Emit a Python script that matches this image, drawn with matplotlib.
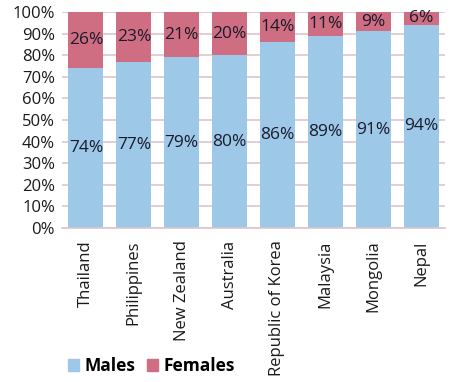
import matplotlib
matplotlib.use("Agg")
from matplotlib import pyplot as plt
from matplotlib.patches import Patch
import numpy as np

countries = ["Thailand", "Philippines", "New Zealand", "Australia",
             "Republic of Korea", "Malaysia", "Mongolia", "Nepal"]
males = [74, 77, 79, 80, 86, 89, 91, 94]
females = [26, 23, 21, 20, 14, 11, 9, 6]

blue = "#9dc8e8"
red = "#cf6e82"

plt.rcParams['font.family'] = ['Open Sans', 'DejaVu Sans']

fig = plt.figure(figsize=(4.54, 3.82), dpi=100)
ax = fig.add_axes([62 / 454, 1 - 228 / 382, (445 - 62) / 454, (228 - 12) / 382])

x = np.arange(len(countries))
ax.bar(x, males, width=0.73, color=blue, zorder=2)
ax.bar(x, females, width=0.73, bottom=males, color=red, zorder=2)

for i in range(len(countries)):
    ax.text(x[i], males[i] / 2, f"{males[i]}%", ha="center", va="center",
            fontsize=12.5, color="#1a1a2a", zorder=3)
    ax.text(x[i], males[i] + females[i] / 2, f"{females[i]}%", ha="center",
            va="center", fontsize=12.5, color="#1a1a2a", zorder=3)

ax.set_xlim(-0.5, len(countries) - 0.5)
ax.set_ylim(0, 100)
ax.set_yticks(range(0, 101, 10))
ax.set_yticklabels([f"{v}%" for v in range(0, 101, 10)], fontsize=12, color="#1a1a1a")
ax.set_xticks(x)
ax.set_xticklabels(countries, rotation=90, fontsize=12, color="#1a1a1a", va="top")
ax.tick_params(axis="both", length=0)
ax.tick_params(axis="y", pad=5)
ax.tick_params(axis="x", pad=9)
ax.yaxis.grid(True, color="#dcc6ce", linewidth=1.2, zorder=0)
ax.set_axisbelow(True)
for s in ["top", "right", "left"]:
    ax.spines[s].set_visible(False)
ax.spines["bottom"].set_color("#dcc6ce")
ax.spines["bottom"].set_linewidth(1.2)

handles = [Patch(color=blue, label="Males"), Patch(color=red, label="Females")]
fig.legend(handles=handles, loc="center left", bbox_to_anchor=(52 / 454, 1 - 366 / 382),
           ncol=2, frameon=False, prop={"weight": "bold", "size": 12.5},
           handlelength=0.65, handleheight=0.65, handletextpad=0.3, columnspacing=0.7)

fig.savefig("out.png", dpi=100)
